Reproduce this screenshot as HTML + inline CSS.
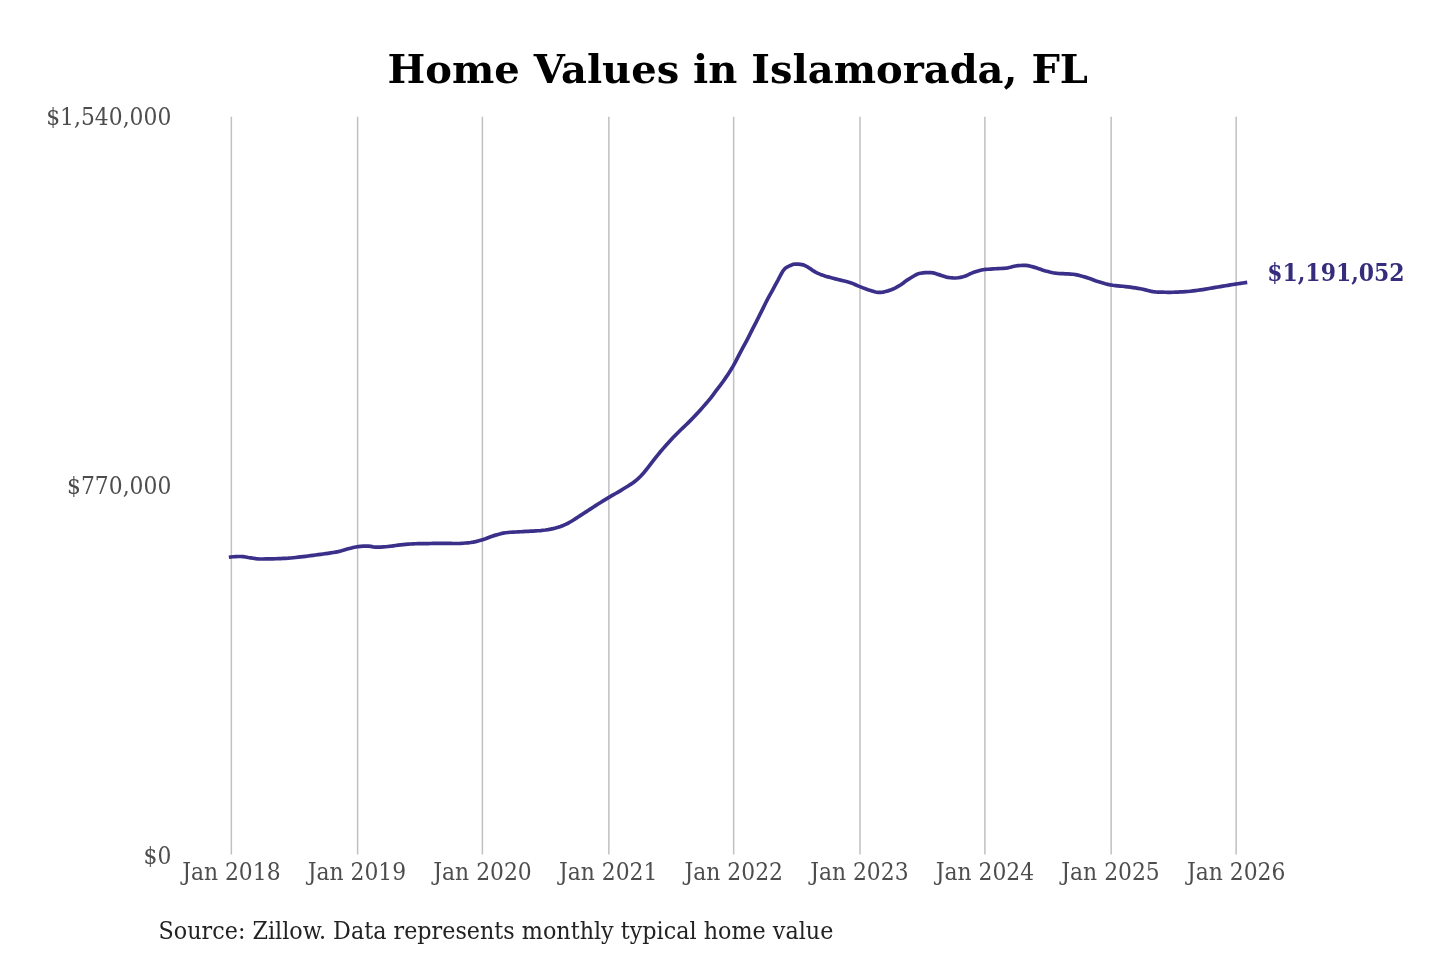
<!DOCTYPE html>
<html lang="en">
<head>
<meta charset="utf-8">
<title>Home Values in Islamorada, FL</title>
<style>
html,body{margin:0;padding:0;background:#fff;}
body{width:1440px;height:960px;overflow:hidden;}
svg{display:block;font-family:"DejaVu Serif","Liberation Serif",serif;}
.title{font-size:40px;font-weight:bold;fill:#000;text-anchor:middle;}
.grid line{stroke:#c0c0c0;stroke-width:1.5;}
.c{font-family:"DejaVu Serif Condensed","DejaVu Serif","Liberation Serif",serif;font-stretch:condensed;}
.xl text{font-size:23.3px;fill:#4d4d4d;text-anchor:middle;}
.yl text{font-size:23.3px;fill:#4d4d4d;text-anchor:end;}
.src{font-size:23.8px;fill:#222;}
.end{font-size:23.4px;font-weight:bold;fill:#352d7c;}
.line{fill:none;stroke:#3a308a;stroke-width:3.7;stroke-linecap:square;stroke-linejoin:round;}
</style>
</head>
<body>
<svg width="1440" height="960" viewBox="0 0 1440 960" role="img" aria-label="Home Values in Islamorada, FL">
<rect width="1440" height="960" fill="#ffffff"/>
<text class="title" x="737.7" y="82.7">Home Values in Islamorada, FL</text>
<g class="grid">
<line x1="231.35" x2="231.35" y1="116.8" y2="854.5"/>
<line x1="357.6" x2="357.6" y1="116.8" y2="854.5"/>
<line x1="482.4" x2="482.4" y1="116.8" y2="854.5"/>
<line x1="608.85" x2="608.85" y1="116.8" y2="854.5"/>
<line x1="733.65" x2="733.65" y1="116.8" y2="854.5"/>
<line x1="860.0" x2="860.0" y1="116.8" y2="854.5"/>
<line x1="984.9" x2="984.9" y1="116.8" y2="854.5"/>
<line x1="1111.15" x2="1111.15" y1="116.8" y2="854.5"/>
<line x1="1236.15" x2="1236.15" y1="116.8" y2="854.5"/>
</g>
<g class="yl c">
<text transform="translate(171.30 124.50) scale(1.043 1)">$1,540,000</text>
<text transform="translate(171.30 494.00) scale(1.043 1)">$770,000</text>
<text transform="translate(171.30 863.50) scale(1.043 1)">$0</text>
</g>
<g class="xl c">
<text transform="translate(231.35 879.70) scale(1.043 1)">Jan 2018</text>
<text transform="translate(356.95 879.70) scale(1.043 1)">Jan 2019</text>
<text transform="translate(482.55 879.70) scale(1.043 1)">Jan 2020</text>
<text transform="translate(608.15 879.70) scale(1.043 1)">Jan 2021</text>
<text transform="translate(733.75 879.70) scale(1.043 1)">Jan 2022</text>
<text transform="translate(859.35 879.70) scale(1.043 1)">Jan 2023</text>
<text transform="translate(984.95 879.70) scale(1.043 1)">Jan 2024</text>
<text transform="translate(1110.55 879.70) scale(1.043 1)">Jan 2025</text>
<text transform="translate(1236.15 879.70) scale(1.043 1)">Jan 2026</text>
</g>
<path class="line" d="M230.7,557.04 L233.2,556.75 L235.7,556.59 L238.2,556.52 L240.7,556.50 L243.2,556.58 L245.7,556.98 L248.2,557.49 L250.7,557.90 L253.2,558.29 L255.7,558.67 L258.2,558.93 L260.7,559.00 L263.2,558.98 L265.7,558.95 L268.2,558.90 L270.7,558.85 L273.2,558.80 L275.7,558.73 L278.2,558.66 L280.7,558.57 L283.2,558.47 L285.7,558.35 L288.2,558.21 L290.7,558.01 L293.2,557.76 L295.7,557.49 L298.2,557.21 L300.7,556.92 L303.2,556.62 L305.7,556.30 L308.2,555.96 L310.7,555.63 L313.2,555.31 L315.7,555.01 L318.2,554.70 L320.7,554.38 L323.2,554.04 L325.7,553.69 L328.2,553.32 L330.7,552.93 L333.2,552.52 L335.7,552.08 L338.2,551.60 L340.7,551.04 L343.2,550.34 L345.7,549.56 L348.2,548.82 L350.7,548.17 L353.2,547.51 L355.7,546.97 L358.2,546.63 L360.7,546.39 L363.2,546.21 L365.7,546.11 L368.2,546.17 L370.7,546.45 L373.2,546.82 L375.7,547.12 L378.2,547.20 L380.7,547.11 L383.2,546.94 L385.7,546.72 L388.2,546.48 L390.7,546.21 L393.2,545.86 L395.7,545.48 L398.2,545.16 L400.6,544.85 L403.1,544.57 L405.6,544.35 L408.1,544.16 L410.6,543.98 L413.1,543.84 L415.6,543.73 L418.1,543.67 L420.6,543.62 L423.1,543.59 L425.6,543.56 L428.1,543.53 L430.6,543.49 L433.1,543.43 L435.6,543.36 L438.1,543.31 L440.6,543.30 L443.1,543.32 L445.6,543.35 L448.1,543.40 L450.6,543.44 L453.1,543.48 L455.6,543.50 L458.1,543.49 L460.6,543.40 L463.1,543.24 L465.6,543.03 L468.1,542.79 L470.6,542.53 L473.1,542.14 L475.6,541.62 L478.1,540.99 L480.6,540.32 L483.1,539.62 L485.6,538.78 L488.1,537.81 L490.6,536.81 L493.1,535.89 L495.6,535.12 L498.1,534.42 L500.6,533.74 L503.1,533.16 L505.6,532.73 L508.1,532.47 L510.6,532.28 L513.1,532.12 L515.6,531.99 L518.1,531.87 L520.6,531.75 L523.1,531.61 L525.6,531.47 L528.1,531.34 L530.6,531.21 L533.1,531.08 L535.6,530.93 L538.1,530.75 L540.6,530.55 L543.1,530.28 L545.6,529.96 L548.1,529.58 L550.6,529.14 L553.1,528.64 L555.6,528.05 L558.1,527.30 L560.6,526.43 L563.1,525.45 L565.6,524.39 L568.1,523.21 L570.6,521.76 L573.1,520.24 L575.6,518.67 L578.1,517.05 L580.6,515.40 L583.1,513.75 L585.6,512.11 L588.1,510.48 L590.6,508.85 L593.1,507.22 L595.6,505.61 L598.1,504.03 L600.6,502.47 L603.1,500.93 L605.6,499.41 L608.1,497.90 L610.6,496.41 L613.1,494.95 L615.6,493.50 L618.1,492.05 L620.6,490.57 L623.1,489.04 L625.6,487.52 L628.1,485.98 L630.6,484.38 L633.1,482.67 L635.6,480.79 L638.1,478.67 L640.6,476.28 L643.1,473.58 L645.6,470.52 L648.1,467.37 L650.6,464.13 L653.1,460.86 L655.6,457.70 L658.1,454.58 L660.6,451.54 L663.1,448.60 L665.6,445.74 L668.1,442.95 L670.6,440.22 L673.1,437.55 L675.6,434.95 L678.1,432.44 L680.6,430.03 L683.1,427.64 L685.6,425.24 L688.1,422.82 L690.6,420.33 L693.1,417.76 L695.6,415.13 L698.1,412.44 L700.6,409.67 L703.1,406.88 L705.6,404.05 L708.1,401.14 L710.6,398.05 L713.1,394.78 L715.6,391.45 L718.1,388.16 L720.6,384.88 L723.1,381.47 L725.6,377.89 L728.1,374.16 L730.6,370.25 L733.1,366.12 L735.6,361.66 L738.0,356.96 L740.5,352.21 L743.0,347.44 L745.5,342.76 L748.0,338.03 L750.5,333.09 L753.0,328.19 L755.5,323.29 L758.0,318.36 L760.5,313.41 L763.0,308.37 L765.5,303.28 L768.0,298.46 L770.5,293.89 L773.0,289.32 L775.5,284.72 L778.0,280.11 L780.5,275.23 L783.0,270.85 L785.5,268.00 L788.0,266.62 L790.5,265.43 L793.0,264.35 L795.5,264.00 L798.0,264.11 L800.5,264.32 L803.0,264.81 L805.5,265.90 L808.0,267.18 L810.5,268.84 L813.0,270.68 L815.5,272.17 L818.0,273.36 L820.5,274.42 L823.0,275.35 L825.5,276.17 L828.0,276.90 L830.5,277.58 L833.0,278.24 L835.5,278.88 L838.0,279.50 L840.5,280.11 L843.0,280.73 L845.5,281.32 L848.0,281.93 L850.5,282.67 L853.0,283.63 L855.5,284.74 L858.0,285.87 L860.5,286.90 L863.0,287.87 L865.5,288.82 L868.0,289.69 L870.5,290.45 L873.0,291.24 L875.5,291.98 L878.0,292.44 L880.5,292.45 L883.0,292.10 L885.5,291.53 L888.0,290.88 L890.5,290.09 L893.0,289.04 L895.5,287.79 L898.0,286.46 L900.5,284.97 L903.0,283.20 L905.5,281.34 L908.0,279.56 L910.5,278.01 L913.0,276.46 L915.5,274.97 L918.0,273.81 L920.5,273.23 L923.0,272.92 L925.5,272.69 L928.0,272.54 L930.5,272.51 L933.0,272.87 L935.5,273.56 L938.0,274.39 L940.5,275.14 L943.0,275.99 L945.5,276.86 L948.0,277.46 L950.5,277.74 L953.0,277.94 L955.5,277.99 L958.0,277.77 L960.5,277.32 L963.0,276.77 L965.5,276.01 L968.0,274.88 L970.5,273.66 L973.0,272.61 L975.5,271.79 L978.0,270.99 L980.5,270.29 L983.0,269.75 L985.5,269.42 L988.0,269.22 L990.5,269.06 L993.0,268.93 L995.5,268.77 L998.0,268.62 L1000.5,268.48 L1003.0,268.32 L1005.5,268.12 L1008.0,267.81 L1010.5,267.23 L1013.0,266.53 L1015.5,265.97 L1018.0,265.68 L1020.5,265.48 L1023.0,265.34 L1025.5,265.31 L1028.0,265.63 L1030.5,266.24 L1033.0,266.91 L1035.5,267.61 L1038.0,268.46 L1040.5,269.36 L1043.0,270.21 L1045.5,270.92 L1048.0,271.57 L1050.5,272.19 L1053.0,272.74 L1055.5,273.16 L1058.0,273.41 L1060.5,273.58 L1063.0,273.71 L1065.5,273.82 L1068.0,273.93 L1070.5,274.07 L1073.0,274.27 L1075.5,274.59 L1077.9,275.10 L1080.4,275.73 L1082.9,276.42 L1085.4,277.13 L1087.9,277.94 L1090.4,278.86 L1092.9,279.82 L1095.4,280.75 L1097.9,281.59 L1100.4,282.34 L1102.9,283.07 L1105.4,283.76 L1107.9,284.37 L1110.4,284.87 L1112.9,285.25 L1115.4,285.55 L1117.9,285.81 L1120.4,286.04 L1122.9,286.28 L1125.4,286.55 L1127.9,286.86 L1130.4,287.20 L1132.9,287.57 L1135.4,287.95 L1137.9,288.35 L1140.4,288.78 L1142.9,289.29 L1145.4,289.89 L1147.9,290.52 L1150.4,291.11 L1152.9,291.59 L1155.4,291.92 L1157.9,292.05 L1160.4,292.13 L1162.9,292.20 L1165.4,292.26 L1167.9,292.29 L1170.4,292.30 L1172.9,292.27 L1175.4,292.20 L1177.9,292.09 L1180.4,291.96 L1182.9,291.82 L1185.4,291.67 L1187.9,291.48 L1190.4,291.23 L1192.9,290.94 L1195.4,290.62 L1197.9,290.28 L1200.4,289.94 L1202.9,289.58 L1205.4,289.17 L1207.9,288.74 L1210.4,288.30 L1212.9,287.86 L1215.4,287.42 L1217.9,287.00 L1220.4,286.57 L1222.9,286.15 L1225.4,285.73 L1227.9,285.31 L1230.4,284.91 L1232.9,284.51 L1235.4,284.13 L1237.9,283.75 L1240.4,283.38 L1242.9,283.01 L1245.4,282.66"/>
<text class="end c" transform="translate(1267.20 281.30) scale(1.043 1)">$1,191,052</text>
<text class="src c" transform="translate(158.60 939.20) scale(1.041 1)">Source: Zillow. Data represents monthly typical home value</text>
</svg>
</body>
</html>
